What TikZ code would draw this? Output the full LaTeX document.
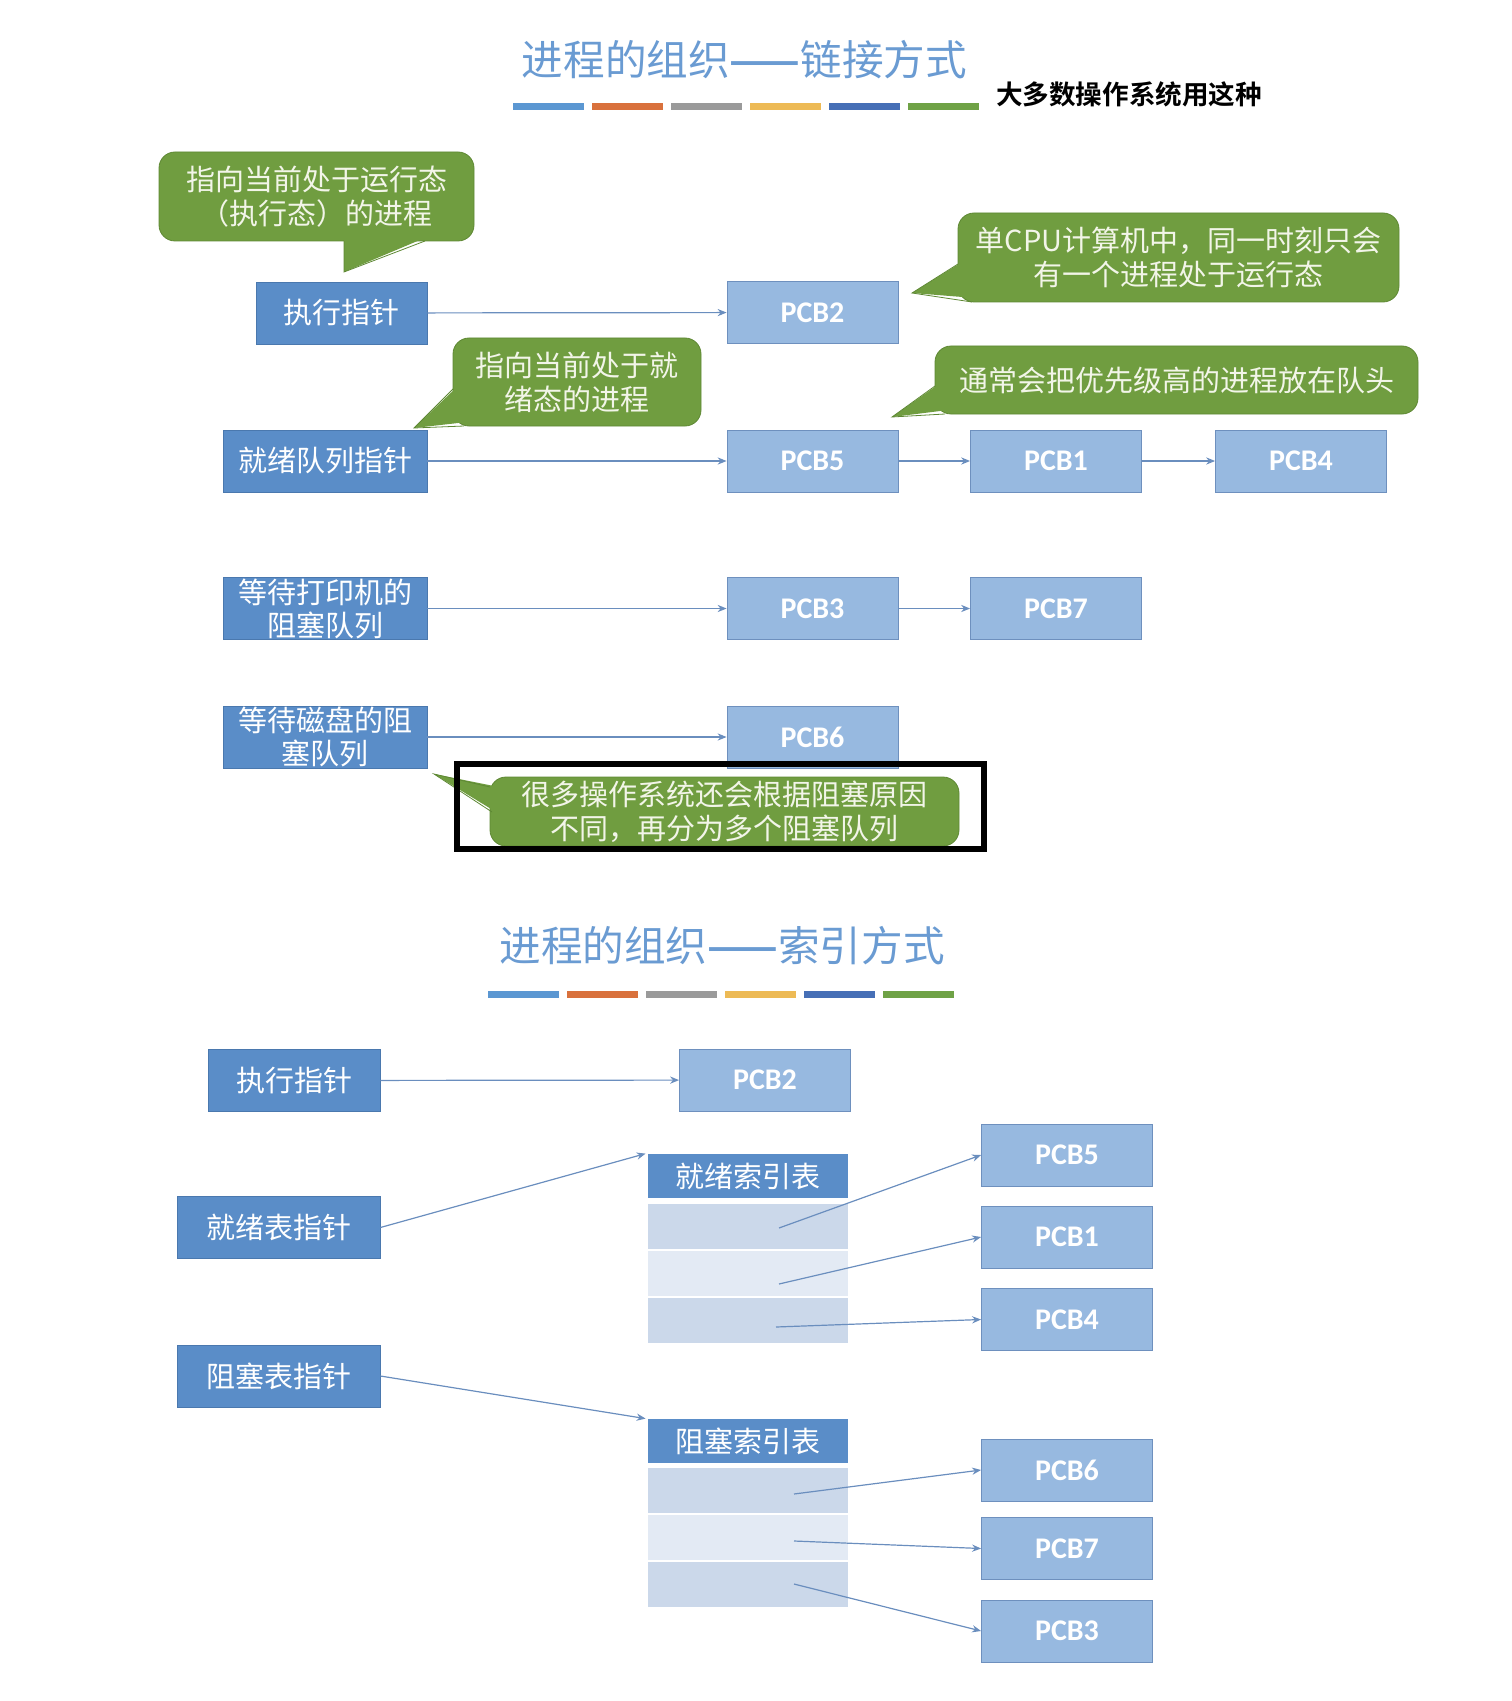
\documentclass[tikz,border=0pt]{standalone}
\usepackage{fontspec}
\setmainfont{Noto Sans CJK SC}
\newfontfamily\pcbfont{Carlito}
\newfontfamily\boldcjk{Noto Sans CJK SC Bold}
\usepackage{tikz}
\usetikzlibrary{arrows.meta}
\definecolor{ptrfill}{HTML}{5A8DC8}
\definecolor{ptrline}{HTML}{4A78AE}
\definecolor{pcbfill}{HTML}{97B9E0}
\definecolor{pcbline}{HTML}{6E90BE}
\definecolor{notefill}{HTML}{709D40}
\definecolor{noteline}{HTML}{5E8834}
\definecolor{notetext}{HTML}{F2F5E8}
\definecolor{arrowc}{HTML}{6A8EBE}
\definecolor{titleblue}{HTML}{6A9BD2}
\definecolor{rowdark}{HTML}{CBD8EA}
\definecolor{rowlight}{HTML}{E3EAF4}
\definecolor{barA}{HTML}{5B97D2}
\definecolor{barB}{HTML}{D9713C}
\definecolor{barC}{HTML}{9A9A9A}
\definecolor{barD}{HTML}{EDBA55}
\definecolor{barE}{HTML}{466FB6}
\definecolor{barF}{HTML}{6FA246}

\begin{document}
\begin{tikzpicture}[x=0.5pt,y=-0.5pt,
  ptr/.style={draw=ptrline, fill=ptrfill, text=white, align=center, inner sep=0pt,
    minimum height=31pt, font=\fontsize{14.5}{16.5}\selectfont},
  pcb/.style={draw=pcbline, fill=pcbfill, text=white, minimum width=85.5pt,
    minimum height=31pt, inner sep=0pt, font=\pcbfont\bfseries\fontsize{15}{18}\selectfont},
  note/.style={draw=noteline, fill=notefill, text=notetext, rounded corners=8pt,
    align=center, inner sep=0pt, font=\fontsize{14.5}{17}\selectfont},
  tailedge/.style={draw=noteline, line width=0.4pt},
  idxhead/.style={fill=ptrfill, text=white, minimum width=100pt, minimum height=22pt,
    inner sep=0pt, font=\fontsize{14.5}{17}\selectfont},
  idxrow/.style={minimum width=100pt, minimum height=22.5pt, inner sep=0pt},
  arr/.style={-{Stealth[length=4.5pt,width=3.6pt]}, draw=arrowc, line width=0.6pt},
  title/.style={text=titleblue, font=\fontsize{20.8}{24}\selectfont}
]
\useasboundingbox (0,0) rectangle (1511,1701);

% linked organisation
\node[title] (title1) at (744.5,60) {进程的组织{\boldcjk ——}链接方式};
\node[font=\boldcjk\fontsize{13.3}{16}\selectfont] (most) at (1129,94) {大多数操作系统用这种};
\foreach \c [count=\i from 0] in {barA,barB,barC,barD,barE,barF}
  \fill[\c] (513+79*\i,103) rectangle ++(71,7);

\node[ptr, minimum width=85.5pt] (run1) at (341.5,313) {执行指针};
\node[ptr, minimum width=102pt] (ready1) at (325,461) {就绪队列指针};
\node[ptr, minimum width=102pt] (print1) at (325,608.5) {等待打印机的\\阻塞队列};
\node[ptr, minimum width=102pt] (disk1) at (325,737) {等待磁盘的阻\\塞队列};

\node[pcb] (pcbTwoA) at (812.5,312.5) {PCB2};
\node[pcb] (pcbFiveA) at (812.5,461) {PCB5};
\node[pcb] (pcbOneA) at (1056,461) {PCB1};
\node[pcb] (pcbFourA) at (1301,461) {PCB4};
\node[pcb] (pcbThreeA) at (812.5,608.5) {PCB3};
\node[pcb] (pcbSevenA) at (1056,608.5) {PCB7};
\node[pcb] (pcbSixA) at (812.5,737) {PCB6};

\draw[arr] (run1) -- (pcbTwoA);
\draw[arr] (ready1) -- (pcbFiveA);
\draw[arr] (pcbFiveA) -- (pcbOneA);
\draw[arr] (pcbOneA) -- (pcbFourA);
\draw[arr] (print1) -- (pcbThreeA);
\draw[arr] (pcbThreeA) -- (pcbSevenA);
\draw[arr] (disk1) -- (pcbSixA);

% callouts
\node[note, minimum width=157.5pt, minimum height=44.5pt] (runNote) at (316.5,196.5)
  {指向当前处于运行态\\（执行态）的进程};
\coordinate (runTip) at (344,272);
\fill[notefill] (344,237) -- (runTip) -- (427,237) -- cycle;
\draw[tailedge] (344,241) -- (runTip) -- (425,241);

\node[note, minimum width=220.5pt, minimum height=44.5pt] (cpuNote) at (1178.5,257.5)
  {单CPU计算机中，同一时刻只会\\有一个进程处于运行态};
\coordinate (cpuTip) at (912,293);
\fill[notefill] (962,262) -- (cpuTip) -- (975,298) -- cycle;
\draw[tailedge] (958,264) -- (cpuTip) -- (972,302);

\node[note, minimum width=241.5pt, minimum height=34pt] (prioNote) at (1176.5,380)
  {通常会把优先级高的进程放在队头};
\coordinate (prioTip) at (892,417);
\fill[notefill] (939,384) -- (prioTip) -- (948,410) -- cycle;
\draw[tailedge] (935,386) -- (prioTip) -- (945,414);

\node[note, minimum width=124pt, minimum height=44pt] (readyNote) at (577,382)
  {指向当前处于就\\绪态的进程};
\coordinate (readyTip) at (414,428);
\fill[notefill] (457,387) -- (readyTip) -- (467,422) -- cycle;
\draw[tailedge] (453,389) -- (readyTip) -- (464,426);

\node[note, minimum width=234.5pt, minimum height=34.5pt] (blockNote) at (724.5,811.5)
  {很多操作系统还会根据阻塞原因\\不同，再分为多个阻塞队列};
\coordinate (blockTip) at (434,774);
\fill[notefill] (494,786) -- (blockTip) -- (496,812) -- cycle;
\draw[tailedge] (490,787) -- (blockTip) -- (492,812);
\draw[line width=2.6pt] (457,764) rectangle (984,849);

% indexed organisation
\node[title] (title2) at (722,946) {进程的组织{\boldcjk ——}索引方式};
\foreach \c [count=\i from 0] in {barA,barB,barC,barD,barE,barF}
  \fill[\c] (488+79*\i,991) rectangle ++(71,7);

\node[ptr, minimum width=86pt] (run2) at (294,1080.5) {执行指针};
\node[ptr, minimum width=101.5pt] (readyPtr) at (278.5,1227.5) {就绪表指针};
\node[ptr, minimum width=101.5pt] (blockPtr) at (278.5,1376) {阻塞表指针};

\node[pcb] (pcbTwoB) at (765,1080) {PCB2};

\node[idxhead] (readyHead) at (748,1176) {就绪索引表};
\node[idxrow, fill=rowdark] (readyRowA) at (748,1226) {};
\node[idxrow, fill=rowlight] (readyRowB) at (748,1273) {};
\node[idxrow, fill=rowdark] (readyRowC) at (748,1320) {};

\node[idxhead] (blockHead) at (748,1441) {阻塞索引表};
\node[idxrow, fill=rowdark] (blockRowA) at (748,1490) {};
\node[idxrow, fill=rowlight] (blockRowB) at (748,1537) {};
\node[idxrow, fill=rowdark] (blockRowC) at (748,1584) {};

\node[pcb] (pcbFiveB) at (1067,1155) {PCB5};
\node[pcb] (pcbOneB) at (1067,1237) {PCB1};
\node[pcb] (pcbFourB) at (1067,1319.5) {PCB4};
\node[pcb] (pcbSixB) at (1067,1470) {PCB6};
\node[pcb] (pcbSevenB) at (1067,1548.5) {PCB7};
\node[pcb] (pcbThreeB) at (1067,1631) {PCB3};

\draw[arr] (run2) -- (pcbTwoB);
\draw[arr] (readyPtr.east) -- ([xshift=-1pt]readyHead.north west);
\draw[arr] (blockPtr.east) -- ([xshift=-1pt]blockHead.north west);

\draw[arr] ([shift={(31,2)}]readyRowA.center) -- (pcbFiveB.west);
\draw[arr] ([shift={(31,11)}]readyRowB.center) -- (pcbOneB.west);
\draw[arr] ([shift={(28,7)}]readyRowC.center) -- (pcbFourB.west);

\draw[arr] ([shift={(46,4)}]blockRowA.center) -- (pcbSixB.west);
\draw[arr] ([shift={(46,4)}]blockRowB.center) -- (pcbSevenB.west);
\draw[arr] ([shift={(46,0)}]blockRowC.center) -- (pcbThreeB.west);
\end{tikzpicture}
\end{document}
